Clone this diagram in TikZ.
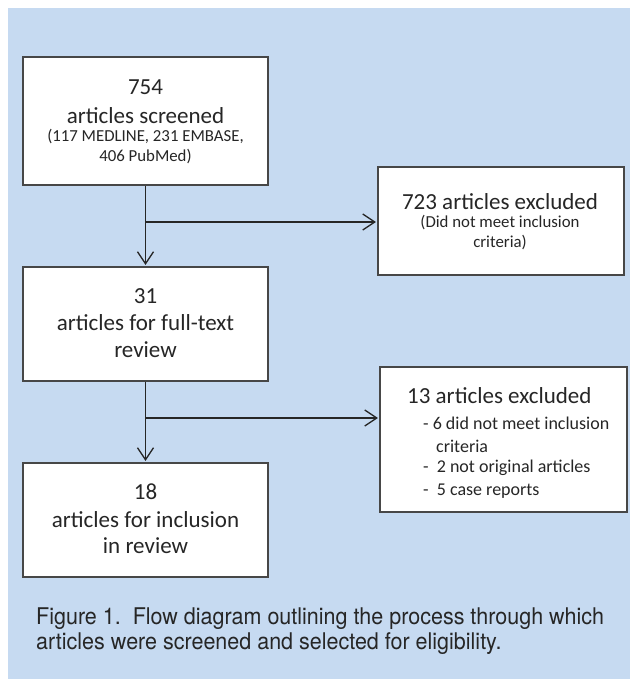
\documentclass[tikz,border=0pt]{standalone}
\usepackage{fontspec}
\setmainfont{Carlito}
\newfontfamily\capfont[FakeStretch=0.935]{TeX Gyre Heros}
\usetikzlibrary{arrows.meta}
\definecolor{bg}{HTML}{C6DAF1}
\definecolor{ink}{HTML}{262626}
\begin{document}
\begin{tikzpicture}[x=1pt,y=-1pt,
  box/.style={draw=ink!85, line width=1.2pt, fill=white, inner sep=0pt, minimum width=245pt},
  big/.style={font=\fontsize{23}{27}\selectfont, text=ink, inner sep=0pt},
  small/.style={font=\fontsize{16.8}{20}\selectfont, text=ink, inner sep=0pt},
  mid/.style={font=\fontsize{18}{22}\selectfont, text=ink, inner sep=0pt, anchor=west},
  conn/.style={line width=1.3pt, draw=ink},
  arr/.style={conn, -{Straight Barb[length=12pt,width=16pt,line width=1.3pt]}, shorten >=1.5pt},
  captext/.style={font=\capfont\fontsize{23}{25}\selectfont, text=ink, inner sep=0pt, anchor=base west}]
\useasboundingbox (0,0) rectangle (630,685);
\fill[bg] (8,8) rectangle (630,679);
% boxes
\node[box, minimum height=128pt] (b1) at (145.5,121) {};
\node[box, minimum width=246pt, minimum height=108pt] (b2) at (501,221) {};
\node[box, minimum height=114pt] (b3) at (145.5,324) {};
\node[box, minimum width=247pt, minimum height=145pt] (b4) at (503.5,439.5) {};
\node[box, minimum height=114pt] (b5) at (145.5,520) {};
% box 1 text
\node[big] (t1a) at (145.5,87.5) {754};
\node[big] (t1b) at (145.5,115.5) {articles screened};
\node[small] (t1c) at (145.5,136.5) {(117 MEDLINE, 231 EMBASE,};
\node[small] (t1d) at (145.5,156.5) {406 PubMed)};
% box 2 text
\node[big] (t2a) at (500,202) {723 articles excluded};
\node[small] (t2b) at (500,223) {(Did not meet inclusion};
\node[small] (t2c) at (500,243) {criteria)};
% box 3 text
\node[big] (t3a) at (145.5,296) {31};
\node[big] (t3b) at (145.5,323) {articles for full-text};
\node[big] (t3c) at (145.5,350) {review};
% box 4 text
\node[big, anchor=west] (t4a) at (407,396) {13 articles excluded};
\node[mid] (t4b) at (423,423) {- 6 did not meet inclusion};
\node[mid] (t4c) at (436,446) {criteria};
\node[mid] (t4d) at (423,468) {-\ \ 2 not original articles};
\node[mid] (t4e) at (423,491) {-\ \ 5 case reports};
% box 5 text
\node[big] (t5a) at (145.5,492) {18};
\node[big] (t5b) at (145.5,520) {articles for inclusion};
\node[big] (t5c) at (145.5,546) {in review};
% connectors
\coordinate (j1) at (b1.south |- 0,222);
\coordinate (j2) at (b3.south |- 0,418);
\draw[arr] (b1.south) -- (b3.north);
\draw[arr] (j1) -- (j1 -| b2.west);
\draw[arr] (b3.south) -- (b5.north);
\draw[arr] (j2) -- (j2 -| b4.west);
% caption
\node[captext] (c1) at (36,624) {Figure 1.\ \ Flow diagram outlining the process through which};
\node[captext] (c2) at (36,649) {articles were screened and selected for eligibility.};
\end{tikzpicture}
\end{document}
